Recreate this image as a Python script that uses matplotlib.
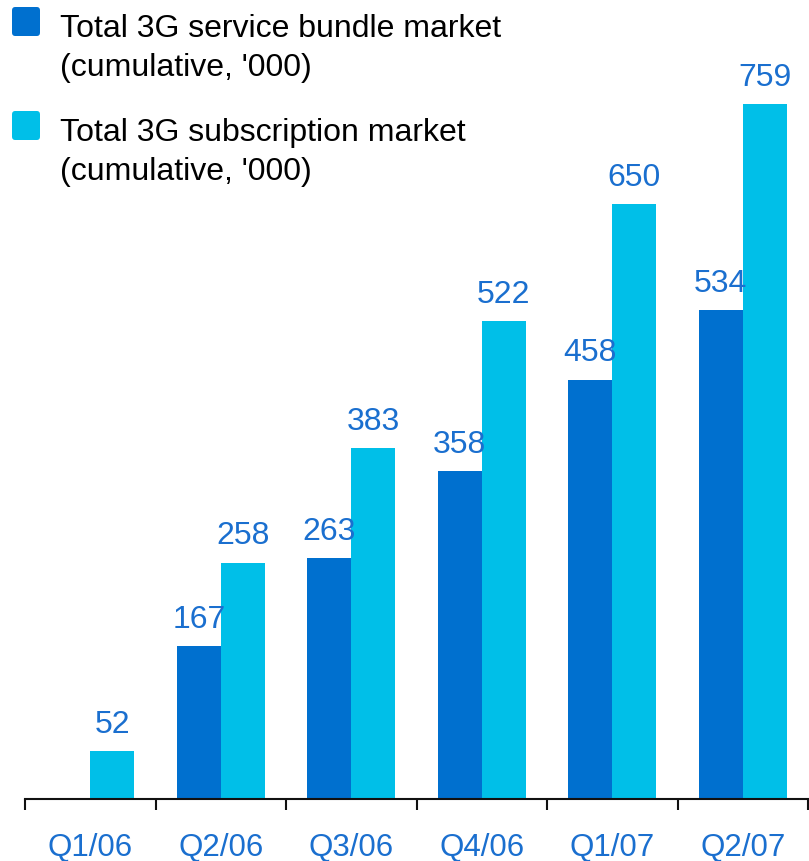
import numpy as np
import matplotlib.pyplot as plt
from matplotlib.patches import FancyBboxPatch

plt.rcParams['font.family'] = ['Liberation Sans', 'DejaVu Sans']

quarters = ["Q1/06", "Q2/06", "Q3/06", "Q4/06", "Q1/07", "Q2/07"]
bundle = [None, 167, 263, 358, 458, 534]
subscription = [52, 258, 383, 522, 650, 759]
series_names = ["Total 3G service bundle market\n(cumulative, '000)",
                "Total 3G subscription market\n(cumulative, '000)"]

dark_blue = "#0070cf"
light_blue = "#00bfe8"
label_blue = "#1a6fcf"

fig = plt.figure(figsize=(8.09, 8.62), dpi=100)
ax = fig.add_axes([25 / 809, 1 - 800 / 862, 783 / 809, 800 / 862])

x = np.arange(len(quarters))
w = 0.336

for vals, offset, color in [(bundle, -w / 2, dark_blue), (subscription, w / 2, light_blue)]:
    xs = [xi + offset for xi, v in zip(x, vals) if v is not None]
    hs = [v for v in vals if v is not None]
    ax.bar(xs, hs, width=w, color=color, linewidth=0)
    for xi, h in zip(xs, hs):
        ax.annotate(str(h), (xi, h), xytext=(0, 9), textcoords="offset points",
                    ha="center", va="bottom", fontsize=23, color=label_blue)

ax.set_xlim(-0.5, len(quarters) - 0.5)
ax.set_ylim(0, 874)

for side in ["top", "right", "left"]:
    ax.spines[side].set_visible(False)
ax.spines["bottom"].set_linewidth(1.5)
ax.spines["bottom"].set_color("#111111")
ax.set_yticks([])

# boundary ticks between quarters, labels centred under each pair
ax.set_xticks(np.arange(-0.5, len(quarters)), labels=[])
ax.tick_params(axis="x", which="major", direction="out", length=8, width=1.5, color="#111111")
ax.set_xticks(x, labels=quarters, minor=True)
ax.tick_params(axis="x", which="minor", length=0, pad=24, labelsize=22.5, labelcolor=label_blue)

# legend drawn in figure pixels
legend_y = [8, 112]
for top, color, name in zip(legend_y, [dark_blue, light_blue], series_names):
    box = FancyBboxPatch((12 / 809, 1 - (top + 29) / 862), 28 / 809, 29 / 862,
                         boxstyle="round,pad=0,rounding_size=0.004",
                         transform=fig.transFigure, facecolor=color, edgecolor="none")
    fig.patches.append(box)
    fig.text(60 / 809, 1 - (top + 6) / 862, name, fontsize=23, color="black",
             ha="left", va="top", linespacing=1.38)

fig.savefig("out.png", dpi=100)
